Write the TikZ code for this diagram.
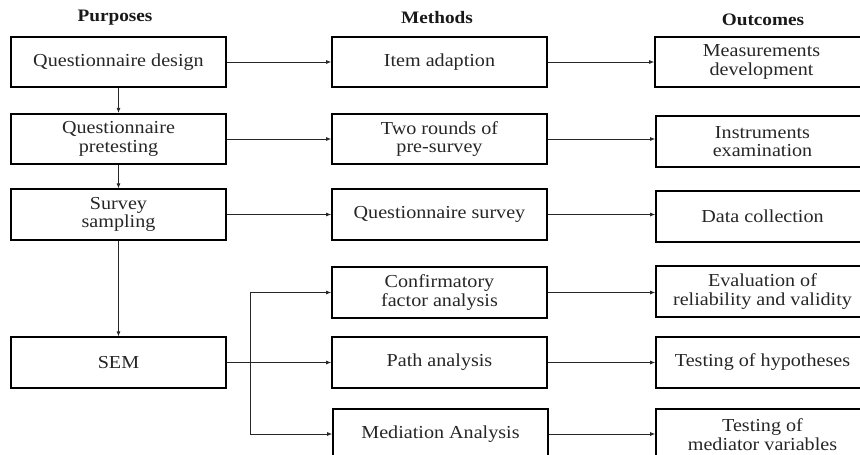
\documentclass[tikz,border=0pt]{standalone}
\usepackage{fontspec}
\setmainfont{Liberation Serif}[FakeStretch=1.1]
\usetikzlibrary{arrows.meta,calc}
\begin{document}
\begin{tikzpicture}[x=1pt,y=-1pt,
  box/.style={draw=black,line width=1.7pt,minimum height=50.5pt,inner sep=0pt,
    align=center,font=\fontsize{18.3}{18.6}\selectfont,text=black!85},
  lbox/.style={box,minimum width=215pt},
  rbox/.style={box,minimum width=213pt},
  hdr/.style={font=\fontsize{17.5}{18}\selectfont\bfseries,text=black!90},
  arr/.style={draw=black!85,line width=0.8pt,-{Latex[length=5pt,width=4pt]}},
  ln/.style={draw=black!85,line width=0.8pt}]
\useasboundingbox (0,0) rectangle (860,455);
% headers
\node[hdr] (h1) at (115,18) {Purposes};
\node[hdr] (h2) at (437,18) {Methods};
\node[hdr] (h3) at (763,20) {Outcomes};
% left column
\node[lbox] (qd) at (118.5,62) {Questionnaire design};
\node[lbox] (qp) at (118.5,139) {Questionnaire\\pretesting};
\node[lbox] (ss) at (118.5,214.5) {Survey\\sampling};
\node[lbox] (sem) at (118.5,362.5) {SEM};
% middle column
\node[lbox] (ia) at (439.5,62) {Item adaption};
\node[lbox] (tr) at (439.5,139) {Two rounds of\\pre-survey};
\node[lbox] (qs) at (439.5,214.5) {Questionnaire survey};
\node[lbox] (cfa) at (439.5,292.5) {Confirmatory\\factor analysis};
\node[lbox] (pa) at (439.5,362.5) {Path analysis};
\node[lbox] (ma) at (440.5,434) {Mediation Analysis};
% right column
\node[rbox] (md) at (761.5,62) {Measurements\\development};
\node[rbox] (ie) at (762.5,141.5) {Instruments\\examination};
\node[rbox] (dc) at (762.5,216.5) {Data collection};
\node[rbox] (ev) at (762.5,291.5) {Evaluation of\\reliability and validity};
\node[rbox] (th) at (762.5,362.5) {Testing of hypotheses};
\node[rbox] (mv) at (762.5,434.5) {Testing of\\mediator variables};
% vertical arrows
\draw[arr] (qd.south) -- (qp.north);
\draw[arr] (qp.south) -- (ss.north);
\draw[arr] (ss.south) -- (sem.north);
% left to middle
\draw[arr] (qd.east) -- (qd.east -| ia.west);
\draw[arr] (qp.east) -- (qp.east -| tr.west);
\draw[arr] (ss.east) -- (ss.east -| qs.west);
\draw[arr] (sem.east) -- (pa.west);
\coordinate (br) at ($(sem.east)+(24,0)$);
\draw[arr] (br) |- (cfa.west);
\draw[arr] (br) |- (ma.west);
% middle to right
\draw[arr] (ia.east) -- (ia.east -| md.west);
\draw[arr] (tr.east) -- (tr.east -| ie.west);
\draw[arr] (qs.east) -- (qs.east -| dc.west);
\draw[arr] (cfa.east) -- (cfa.east -| ev.west);
\draw[arr] (pa.east) -- (pa.east -| th.west);
\draw[arr] (ma.east) -- (ma.east -| mv.west);
\end{tikzpicture}
\end{document}
